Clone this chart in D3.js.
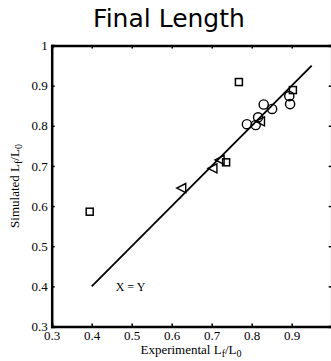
<!DOCTYPE html>
<html>
<head>
<meta charset="utf-8">
<script src="https://cdn.jsdelivr.net/npm/d3@7"></script>
<style>
  body { margin: 0; background: #fff; }
  svg { display: block; }
  .tick-label { font-family: "Liberation Serif", "Times New Roman", serif; font-size: 13px; fill: #000; }
</style>
</head>
<body>
<div id="chart"></div>
<script>
// Dados
const squares = [
  [0.395, 0.586], [0.768, 0.909], [0.903, 0.889], [0.736, 0.709]
];
const circles = [
  [0.788, 0.804], [0.81, 0.802], [0.816, 0.821], [0.83, 0.853],
  [0.851, 0.842], [0.894, 0.874], [0.896, 0.854]
];
const triangles = [
  [0.625, 0.645], [0.703, 0.694], [0.721, 0.715], [0.822, 0.811]
];
const identityLine = [[0.4, 0.4], [0.95, 0.95]];
const xTicks = [0.3, 0.4, 0.5, 0.6, 0.7, 0.8, 0.9];
const yTicks = [0.3, 0.4, 0.5, 0.6, 0.7, 0.8, 0.9, 1];

const width = 331, height = 361;
const margin = { left: 51.7, top: 45.5, right: -0.7, bottom: 34.5 };

const svg = d3.select("#chart").append("svg")
  .attr("width", width)
  .attr("height", height);

const x = d3.scaleLinear().domain([0.3, 1]).range([margin.left, width - margin.right]);
const y = d3.scaleLinear().domain([0.3, 1]).range([height - margin.bottom, margin.top]);

// Título
svg.append("text")
  .attr("x", 169)
  .attr("y", 27)
  .attr("text-anchor", "middle")
  .style("font-family", "'DejaVu Sans', sans-serif")
  .style("font-size", "25px")
  .text("Final Length");

// Eixos (ticks para dentro)
const fmt = d => d === 1 ? "1" : d3.format(".1f")(d);
const xAxis = d3.axisBottom(x).tickValues(xTicks).tickSize(-3).tickFormat(fmt);
const yAxis = d3.axisLeft(y).tickValues(yTicks).tickSize(-3).tickPadding(4).tickFormat(fmt);

const gx = svg.append("g")
  .attr("transform", `translate(0,${y(0.3)})`)
  .call(xAxis);
const gy = svg.append("g")
  .attr("transform", `translate(${x(0.3)},0)`)
  .call(yAxis);

// Eixo de cima e da direita (só ticks)
const gxTop = svg.append("g")
  .attr("transform", `translate(0,${y(1)})`)
  .call(d3.axisTop(x).tickValues(xTicks).tickSize(-3).tickFormat(""));
const gyRight = svg.append("g")
  .attr("transform", `translate(${x(1)},0)`)
  .call(d3.axisRight(y).tickValues(yTicks).tickSize(-3).tickFormat(""));

[gx, gy, gxTop, gyRight].forEach(g => {
  g.select(".domain").attr("stroke", "#000").attr("stroke-width", 2.5);
  g.selectAll(".tick line").attr("stroke", "#000").attr("stroke-width", 1.5);
  g.selectAll(".tick text").attr("class", "tick-label").attr("font-family", null).attr("font-size", null);
});
gx.selectAll(".tick text").attr("y", 13.5).attr("dy", 0);

// Rótulos dos eixos
const xl = svg.append("text")
  .attr("class", "tick-label")
  .attr("x", 191)
  .attr("y", 354)
  .attr("text-anchor", "middle");
xl.append("tspan").text("Experimental L");
xl.append("tspan").attr("baseline-shift", "-30%").style("font-size", "10px").text("f");
xl.append("tspan").text("/L");
xl.append("tspan").attr("baseline-shift", "-30%").style("font-size", "10px").text("0");

const yl = svg.append("text")
  .attr("class", "tick-label")
  .attr("transform", "translate(19,186) rotate(-90)")
  .attr("text-anchor", "middle");
yl.append("tspan").text("Simulated L");
yl.append("tspan").attr("baseline-shift", "-30%").style("font-size", "10px").text("f");
yl.append("tspan").text("/L");
yl.append("tspan").attr("baseline-shift", "-30%").style("font-size", "10px").text("0");

// Linha X = Y
svg.append("path")
  .datum(identityLine)
  .attr("fill", "none")
  .attr("stroke", "#000")
  .attr("stroke-width", 1.8)
  .attr("d", d3.line().x(d => x(d[0])).y(d => y(d[1])));

svg.append("text")
  .attr("class", "tick-label")
  .style("font-size", "12px")
  .attr("x", x(0.46))
  .attr("y", y(0.4) + 5)
  .text("X = Y");

// Marcadores
svg.append("g").selectAll("rect")
  .data(squares)
  .enter()
  .append("rect")
  .attr("x", d => x(d[0]) - 3.5)
  .attr("y", d => y(d[1]) - 3.5)
  .attr("width", 7)
  .attr("height", 7)
  .attr("fill", "none")
  .attr("stroke", "#000")
  .attr("stroke-width", 1.5);

svg.append("g").selectAll("circle")
  .data(circles)
  .enter()
  .append("circle")
  .attr("cx", d => x(d[0]))
  .attr("cy", d => y(d[1]))
  .attr("r", 4.6)
  .attr("fill", "none")
  .attr("stroke", "#000")
  .attr("stroke-width", 1.4);

svg.append("g").selectAll("path")
  .data(triangles)
  .enter()
  .append("path")
  .attr("transform", d => `translate(${x(d[0])},${y(d[1])})`)
  .attr("d", "M-5,0 L4,-4.5 L4,4.5 Z")
  .attr("fill", "none")
  .attr("stroke", "#000")
  .attr("stroke-width", 1.4);
</script>
</body>
</html>
